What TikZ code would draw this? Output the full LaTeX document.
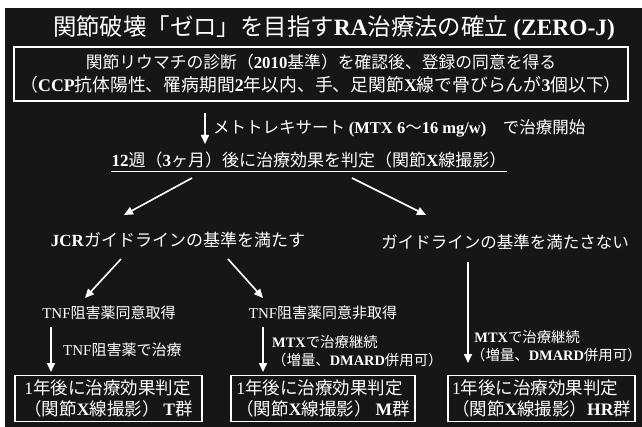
\documentclass[tikz,border=0pt]{standalone}
\usepackage{fontspec}
\setmainfont{Noto Sans CJK JP}
\newfontfamily\latinfont{Liberation Serif}
\newcommand\lt[1]{{\latinfont\bfseries #1}}
\newcommand\ltr[1]{{\latinfont #1}}
\usetikzlibrary{arrows.meta}
\definecolor{bgc}{HTML}{161616}
\tikzset{
  txt/.style={text=white, inner sep=0pt},
  arr/.style={draw=white, line width=1.6pt, -{Triangle[length=9pt,width=8pt]}},
  resbox/.style={draw=white, line width=1.3pt, text=white, inner sep=0pt, minimum height=46pt, align=left, font=\fontsize{17.5}{21.5}\selectfont},
}
\begin{document}
\begin{tikzpicture}[x=1pt,y=-1pt]
\useasboundingbox (0,0) rectangle (642,427);
\fill[white] (0,0) rectangle (642,427);
\fill[bgc] (5,8) rectangle (642,427);

% title
\node[txt, font=\fontsize{23.4}{26}\selectfont] (title) at (334,28) {関節破壊「ゼロ」を目指す\lt{RA}治療法の確立 \lt{(ZERO-J)}};

% top box
\node[draw=white, line width=1.3pt, minimum width=614pt, minimum height=54pt, inner sep=0pt] (box1) at (321,74) {};
\node[txt, font=\fontsize{16.8}{20}\selectfont] (line1) at (321,62) {関節リウマチの診断（\lt{2010}基準）を確認後、登録の同意を得る};
\node[txt, font=\fontsize{17.8}{20}\selectfont] (line2) at (321,85) {（\lt{CCP}抗体陽性、罹病期間\lt{2}年以内、手、足関節\lt{X}線で骨びらんが\lt{3}個以下）};

% MTX arrow
\coordinate (a1s) at (205,113);
\coordinate (a1e) at (205,144);
\draw[arr] (a1s) -- (a1e);
\node[txt, anchor=west, font=\fontsize{16.5}{18}\selectfont] (mtx) at (213,128) {メトトレキサート \lt{(MTX 6}〜\lt{16 mg/w)}　で治療開始};

% judge at 12 weeks
\node[txt, font=\fontsize{17}{20}\selectfont] (judge) at (309,160) {\lt{12}週（\lt{3}ヶ月）後に治療効果を判定（関節\lt{X}線撮影）};
\draw[white, line width=1.1pt] ([yshift=-3pt]judge.south west) -- ([yshift=-3pt]judge.south east);

% diagonal arrows
\coordinate (d1s) at (192,178);
\coordinate (d1e) at (124,215);
\coordinate (d2s) at (352,178);
\coordinate (d2e) at (426,215);
\draw[arr] (d1s) -- (d1e);
\draw[arr] (d2s) -- (d2e);

% criteria
\node[txt, font=\fontsize{17}{20}\selectfont] (meet) at (178,240) {\lt{JCR}ガイドラインの基準を満たす};
\node[txt, font=\fontsize{16.5}{20}\selectfont] (notmeet) at (505,242) {ガイドラインの基準を満たさない};

% diagonal arrows second level
\coordinate (d3s) at (121,259);
\coordinate (d3e) at (85,298);
\coordinate (d4s) at (228,259);
\coordinate (d4e) at (263,298);
\draw[arr] (d3s) -- (d3e);
\draw[arr] (d4s) -- (d4e);

% TNF consent
\node[txt, font=\fontsize{15}{18}\selectfont] (tnfyes) at (109,313) {\ltr{TNF}阻害薬同意取得};
\node[txt, font=\fontsize{15}{18}\selectfont] (tnfno) at (323,313) {\ltr{TNF}阻害薬同意非取得};

% vertical arrows
\coordinate (v1s) at (51,327);
\coordinate (v1e) at (51,372);
\coordinate (v2s) at (263,327);
\coordinate (v2e) at (263,372);
\coordinate (v3s) at (468,262);
\coordinate (v3e) at (468,363);
\draw[arr] (v1s) -- (v1e);
\draw[arr] (v2s) -- (v2e);
\draw[arr] (v3s) -- (v3e);

% arrow labels
\node[txt, anchor=west, font=\fontsize{15}{18}\selectfont] (tnftreat) at (63,350) {\ltr{TNF}阻害薬で治療};
\node[txt, anchor=west, align=left, font=\fontsize{14.4}{18}\selectfont] (mtxm) at (272,351) {\lt{MTX}で治療継続\\（増量、\lt{DMARD}併用可）};
\node[txt, anchor=west, align=left, font=\fontsize{14.4}{17.5}\selectfont] (mtxhr) at (471,346) {\ \lt{MTX}で治療継続\\（増量、\lt{DMARD}併用可）};

% result boxes
\node[resbox, minimum width=187pt] (boxT) at (108.5,398.5) {\ltr{1}年後に治療効果判定\\（関節\lt{X}線撮影）\ \lt{T}群};
\node[resbox, minimum width=184pt] (boxM) at (323,398.5) {\ltr{1}年後に治療効果判定\\（関節\lt{X}線撮影）\ \lt{M}群};
\node[resbox, minimum width=187pt] (boxHR) at (541.5,398.5) {\ltr{1}年後に治療効果判定\\（関節\lt{X}線撮影）\lt{HR}群};
\end{tikzpicture}
\end{document}
